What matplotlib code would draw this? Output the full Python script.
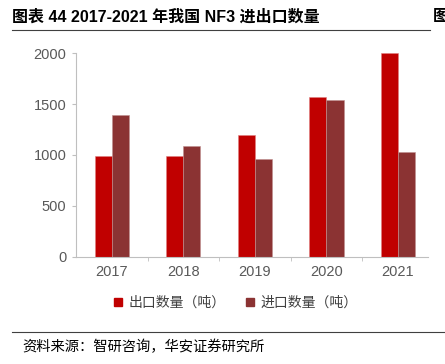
import numpy as np
import matplotlib
matplotlib.use("Agg")
import matplotlib.pyplot as plt
from matplotlib.lines import Line2D

plt.rcParams['font.family'] = ['Liberation Sans', 'Noto Sans CJK SC', 'DejaVu Sans']

# data
years = ['2017', '2018', '2019', '2020', '2021']
export_qty = [995, 995, 1195, 1575, 2000]
import_qty = [1390, 1090, 965, 1540, 1025]
yticks = [0, 500, 1000, 1500, 2000]

title = '图表 44 2017-2021 年我国 NF3 进出口数量'
source = '资料来源：智研咨询，华安证券研究所'
labels = ['出口数量（吨）', '进口数量（吨）']
colors = ['#C00000', '#8B3333']

fig = plt.figure(figsize=(4.45, 3.64), dpi=100)
ax = fig.add_axes([76/445, 1-256.7/364, (428-76)/445, (256.7-53.3)/364])

x = np.arange(len(years))
w = 0.24
ax.bar(x - w/2, export_qty, w, color=colors[0], edgecolor='#E08080', linewidth=0.4, label=labels[0])
ax.bar(x + w/2, import_qty, w, color=colors[1], edgecolor='#C09090', linewidth=0.4, label=labels[1])

ax.set_xlim(-0.5, 4.42)
ax.set_ylim(0, 2000)
ax.set_yticks(yticks)
ax.set_xticks(x)
ax.set_xticklabels(years)
ax.set_xticks(x[:-1] + 0.5, minor=True)
for s in ['top', 'right']:
    ax.spines[s].set_visible(False)
for s in ['left', 'bottom']:
    ax.spines[s].set_color('#BFBFBF')
    ax.spines[s].set_linewidth(0.8)
ax.tick_params(axis='x', which='major', length=0, labelsize=10.5, labelcolor='#595959', pad=6)
ax.tick_params(axis='x', which='minor', length=3, color='#BFBFBF')
ax.tick_params(axis='y', length=3, color='#BFBFBF', labelsize=10.5, labelcolor='#595959', pad=4)

# legend
handles = [Line2D([], [], marker='s', linestyle='none', markersize=6, color=c) for c in colors]
fig.legend(handles, labels, loc='center', bbox_to_anchor=(235/445, 1-303/364), ncol=2,
           frameon=False, fontsize=10, handlelength=0.8, handletextpad=0.3,
           columnspacing=1.4, labelcolor='#404040')

# title and source
fig.text(12/445, 1-17/364, title, fontsize=11.5, fontweight='bold', va='center', ha='left')
fig.text(433/445, 1-17/364, '图', fontsize=11.5, fontweight='bold', va='center', ha='left')
fig.add_artist(Line2D([12/445, 430/445], [1-30/364, 1-30/364], color='#404040', linewidth=0.8))
fig.add_artist(Line2D([12/445, 1.0], [1-332/364, 1-332/364], color='#404040', linewidth=0.8))
fig.text(22/445, 1-347/364, source, fontsize=10.3, va='center', ha='left')

fig.savefig('out.png', dpi=100)
